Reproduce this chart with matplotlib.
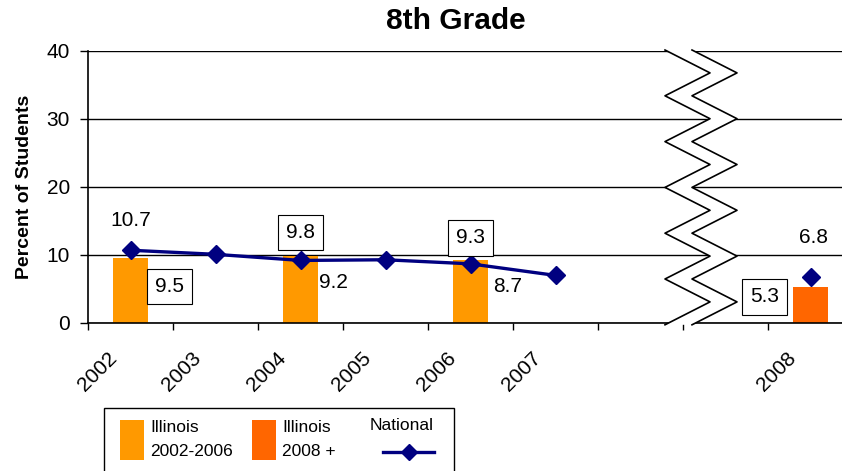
import matplotlib
matplotlib.use('Agg')
import matplotlib.pyplot as plt
import matplotlib.transforms as mtransforms
from matplotlib.patches import Rectangle, Polygon
from matplotlib.lines import Line2D

plt.rcParams['font.family'] = ['Liberation Sans', 'DejaVu Sans']

# data
categories = ['2002', '2003', '2004', '2005', '2006', '2007', '', '', '2008']
illinois_years = ['2002', '2004', '2006']
illinois_values = [9.5, 9.8, 9.3]
illinois_2008 = 5.3
national_years = ['2002', '2003', '2004', '2005', '2006', '2007']
national_values = [10.7, 10.1, 9.2, 9.3, 8.7, 7.0]
national_2008 = 6.8

W, H = 842, 471
fig = plt.figure(figsize=(W / 100, H / 100), dpi=100)


def fx(px):
    return px / W


def fy(py):
    return 1 - py / H


ax = fig.add_axes([fx(88), fy(323), fx(853) - fx(88), fy(51) - fy(323)])

pos = {c: i + 0.5 for i, c in enumerate(categories) if c}
orange = '#FF9900'
red_orange = '#FF6600'
navy = '#000080'

ax.bar([pos[y] for y in illinois_years], illinois_values, width=0.41, color=orange, zorder=2)
ax.bar([pos['2008']], [illinois_2008], width=0.41, color=red_orange, zorder=2)
ax.plot([pos[y] for y in national_years], national_values, color=navy, lw=2.4,
        marker='D', markersize=9, zorder=3)
ax.plot([pos['2008']], [national_2008], color=navy, marker='D', markersize=9,
        linestyle='none', zorder=3)

ax.set_xlim(0, len(categories))
ax.set_ylim(0, 40)
ax.set_yticks([0, 10, 20, 30, 40])
ax.yaxis.grid(True, color='black', lw=1)
ax.set_axisbelow(True)
ax.tick_params(axis='y', direction='out', length=6, width=1, labelsize=15, pad=7)

ax.set_xticks(range(len(categories) + 1))
ax.set_xticklabels([])
ax.set_xticks([i + 0.5 for i in range(len(categories))], minor=True)
ax.set_xticklabels(categories, minor=True, rotation=45, ha='right', va='center',
                   rotation_mode='anchor', fontsize=15)
ax.tick_params(axis='x', which='major', direction='out', length=5, width=1)
ax.tick_params(axis='x', which='minor', length=0, pad=23)
shift = mtransforms.ScaledTranslation(-17 / 100, 0, fig.dpi_scale_trans)
for lab in ax.get_xticklabels(minor=True):
    lab.set_transform(lab.get_transform() + shift)

for s in ['top', 'right']:
    ax.spines[s].set_visible(False)
for s in ['left', 'bottom']:
    ax.spines[s].set_linewidth(1.2)

ax.set_ylabel('Percent of Students', fontsize=14, fontweight='bold', labelpad=10)
ax.set_title('8th Grade', fontsize=21.5, fontweight='bold', pad=16, x=0.481)

box = dict(boxstyle='square,pad=0.4', fc='white', ec='black', lw=0.8)


def label(x, y, text, dx, dy, boxed=False):
    ax.annotate(text, xy=(x, y), xytext=(dx * 0.72, dy * 0.72), textcoords='offset points',
                ha='center', va='center', fontsize=15, zorder=5,
                bbox=box if boxed else None)


# national labels (pixel offsets)
label(pos['2002'], national_values[0], f'{national_values[0]}', 0, 30)
label(pos['2004'], national_values[2], f'{national_values[2]}', 33, -22)
label(pos['2006'], national_values[4], f'{national_values[4]}', 37, -23)
label(pos['2008'], national_2008, f'{national_2008}', 3, 39)
# illinois labels
label(pos['2002'], illinois_values[0], f'{illinois_values[0]}', 39, -28, True)
label(pos['2004'], illinois_values[1], f'{illinois_values[1]}', 0, 24, True)
label(pos['2006'], illinois_values[2], f'{illinois_values[2]}', 0, 22, True)
label(pos['2008'], illinois_2008, f'{illinois_2008}', -46, -10, True)

# axis break zigzag
ys = [50 + 22.9 * k for k in range(13)]
left = [(665 if k % 2 == 0 else 710, y) for k, y in enumerate(ys)]
right = [(x + 27, y) for x, y in left]
poly = [(fx(x), fy(y)) for x, y in left + right[::-1]]
fig.add_artist(Polygon(poly, closed=True, fc='white', ec='none', zorder=10))
for pts in (left, right):
    fig.add_artist(Line2D([fx(x) for x, y in pts], [fy(y) for x, y in pts],
                          color='black', lw=1.2, zorder=11))

# legend drawn by hand
fig.add_artist(Rectangle((fx(104), fy(480)), fx(454) - fx(104), fy(408) - fy(480),
                         fc='white', ec='black', lw=1))
fig.add_artist(Rectangle((fx(120), fy(460)), fx(24), fy(420) - fy(460), fc=orange, ec='none'))
fig.add_artist(Rectangle((fx(252), fy(460)), fx(24), fy(420) - fy(460), fc=red_orange, ec='none'))
fig.text(fx(150), fy(427), 'Illinois', fontsize=12.5, va='center')
fig.text(fx(150), fy(451), '2002-2006', fontsize=12.5, va='center')
fig.text(fx(282), fy(427), 'Illinois', fontsize=12.5, va='center')
fig.text(fx(282), fy(451), '2008 +', fontsize=12.5, va='center')
fig.text(fx(370), fy(426), 'National', fontsize=12.5, va='center')
fig.add_artist(Line2D([fx(383), fx(434)], [fy(452), fy(452)], color=navy, lw=2.4))
fig.add_artist(Line2D([fx(408.5)], [fy(452)], color=navy, marker='D', markersize=8))

fig.savefig('out.png', dpi=100)
